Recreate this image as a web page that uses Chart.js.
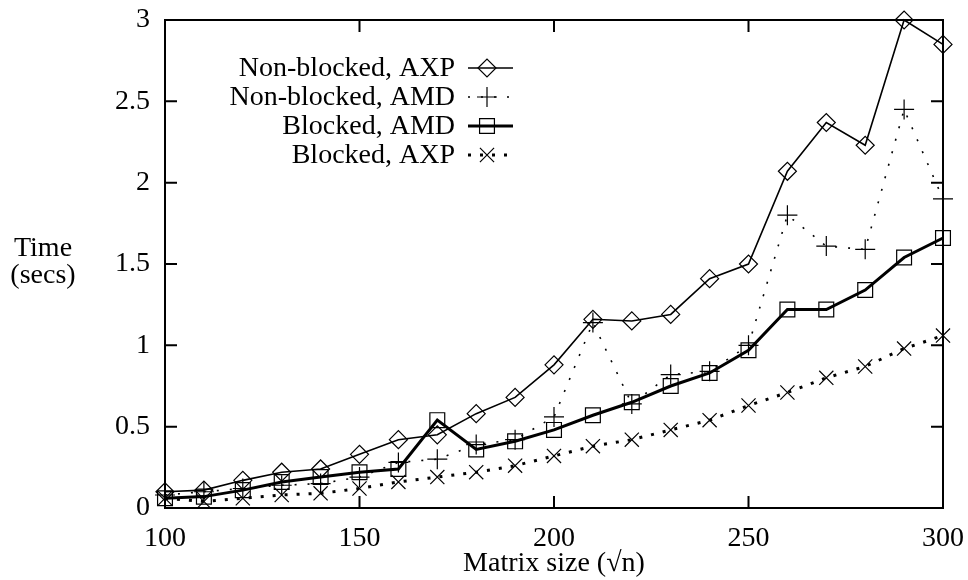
<!DOCTYPE html>
<html lang="en">
<head>
<meta charset="UTF-8">
<title>Matrix size vs time</title>
<script src="https://cdn.jsdelivr.net/npm/chart.js@4.4.8/dist/chart.umd.min.js"></script>
<style>
    html, body { margin: 0; padding: 0; background: #fff; }
    #wrap { width: 968px; height: 580px; }
</style>
</head>
<body>

<div id="wrap"><canvas id="myChart"></canvas></div>

<script>

    // matrix size (sqrt n)
    const sizes = [100, 110, 120, 130, 140, 150, 160, 170, 180, 190, 200,
                   210, 220, 230, 240, 250, 260, 270, 280, 290, 300]

    // time in seconds
    const nonBlockedAXP = [0.10, 0.11, 0.17, 0.22, 0.24, 0.33, 0.42, 0.45, 0.58, 0.68, 0.88,
                           1.16, 1.15, 1.19, 1.41, 1.50, 2.07, 2.37, 2.23, 3.00, 2.85]
    const nonBlockedAMD = [0.08, 0.10, 0.12, 0.14, 0.15, 0.19, 0.28, 0.30, 0.39, 0.42, 0.56,
                           1.14, 0.64, 0.82, 0.84, 1.00, 1.80, 1.61, 1.59, 2.45, 1.90]
    const blockedAMD    = [0.06, 0.07, 0.11, 0.16, 0.19, 0.22, 0.24, 0.54, 0.36, 0.41, 0.48,
                           0.57, 0.65, 0.75, 0.83, 0.97, 1.22, 1.22, 1.34, 1.54, 1.66]
    const blockedAXP    = [0.06, 0.04, 0.06, 0.08, 0.09, 0.12, 0.16, 0.19, 0.22, 0.26, 0.32,
                           0.38, 0.42, 0.48, 0.54, 0.63, 0.71, 0.80, 0.87, 0.98, 1.06]

    const seriesNames = ['Non-blocked, AXP', 'Non-blocked, AMD', 'Blocked, AMD', 'Blocked, AXP']
    const xTicks = [100, 150, 200, 250, 300]
    const yTicks = [0, 0.5, 1, 1.5, 2, 2.5, 3]

    const fontFamily = "'Liberation Serif', 'DejaVu Serif', serif"
    const fontSize = 28

    Chart.defaults.font.family = fontFamily
    Chart.defaults.font.size = fontSize
    Chart.defaults.color = '#000'

    const toPoints = ys => sizes.map((s, i) => ({ x: s, y: ys[i] }))

    const mkSet = (label, ys, style) => Object.assign({
        label: label,
        data: toPoints(ys),
        borderColor: '#000',
        pointBorderColor: '#000',
        pointBackgroundColor: 'rgba(0,0,0,0)',
        pointBorderWidth: 1.2,
        tension: 0,
        clip: false,
    }, style)

    const datasets = [
        mkSet(seriesNames[0], nonBlockedAXP, { borderWidth: 1.6, pointStyle: 'rectRot', pointRadius: 9 }),
        mkSet(seriesNames[1], nonBlockedAMD, { borderWidth: 1.6, borderDash: [2, 11], pointStyle: 'cross', pointRadius: 10 }),
        mkSet(seriesNames[2], blockedAMD, { borderWidth: 3, pointStyle: 'rect', pointRadius: 10.5 }),
        mkSet(seriesNames[3], blockedAXP, { borderWidth: 3, borderDash: [3, 9], pointStyle: 'crossRot', pointRadius: 10 }),
    ]

    // box round the plot, ticks pointing inward on all four sides
    const framePlugin = {
        id: 'frame',
        beforeDatasetsDraw(chart) {
            const { ctx, chartArea: a, scales } = chart
            const tl = 12
            ctx.save()
            ctx.strokeStyle = '#000'
            ctx.lineWidth = 2
            ctx.strokeRect(a.left, a.top, a.right - a.left, a.bottom - a.top)
            ctx.beginPath()
            for (const v of xTicks) {
                const px = scales.x.getPixelForValue(v)
                ctx.moveTo(px, a.bottom); ctx.lineTo(px, a.bottom - tl)
                ctx.moveTo(px, a.top); ctx.lineTo(px, a.top + tl)
            }
            for (const v of yTicks) {
                const py = scales.y.getPixelForValue(v)
                ctx.moveTo(a.left, py); ctx.lineTo(a.left + tl, py)
                ctx.moveTo(a.right, py); ctx.lineTo(a.right - tl, py)
            }
            ctx.stroke()

            // y title, horizontal, two lines
            ctx.fillStyle = '#000'
            ctx.font = fontSize + 'px ' + fontFamily
            ctx.textAlign = 'center'
            ctx.textBaseline = 'middle'
            ctx.fillText('Time', 43, 249)
            ctx.fillText('(secs)', 43, 276)
            ctx.restore()
        },
        afterDatasetsDraw(chart) {
            const { ctx } = chart
            const textRight = 455
            const lineL = 468, lineR = 513, markX = 487
            ctx.save()
            ctx.font = fontSize + 'px ' + fontFamily
            ctx.textAlign = 'right'
            ctx.textBaseline = 'middle'
            chart.data.datasets.forEach((ds, i) => {
                const yy = 68 + i * 29
                ctx.fillStyle = '#000'
                ctx.fillText(ds.label, textRight, yy + 1)
                ctx.strokeStyle = '#000'
                ctx.lineWidth = ds.borderWidth
                ctx.setLineDash(ds.borderDash || [])
                ctx.beginPath()
                ctx.moveTo(lineL, yy)
                ctx.lineTo(lineR, yy)
                ctx.stroke()
                ctx.setLineDash([])
                ctx.fillStyle = 'rgba(0,0,0,0)'
                ctx.lineWidth = ds.pointBorderWidth
                Chart.helpers.drawPoint(ctx, {
                    pointStyle: ds.pointStyle,
                    radius: ds.pointRadius,
                    rotation: 0,
                    borderWidth: ds.pointBorderWidth
                }, markX, yy)
            })
            ctx.restore()
        }
    }

    const ctx = document.getElementById('myChart')
    const chart = new Chart(ctx, {
        type: 'line',
        data: { datasets: datasets },
        plugins: [framePlugin],
        options: {
            responsive: true,
            maintainAspectRatio: false,
            animation: false,
            layout: { padding: { left: 0, right: 25, top: 20, bottom: 0 } },
            plugins: {
                legend: { display: false },
                tooltip: { enabled: false },
            },
            scales: {
                x: {
                    type: 'linear',
                    min: 100,
                    max: 300,
                    afterBuildTicks: s => { s.ticks = xTicks.map(v => ({ value: v })) },
                    ticks: { padding: 14, callback: v => String(v) },
                    grid: { display: false, drawTicks: false },
                    border: { display: false },
                    title: { display: true, text: 'Matrix size (\u221An)', padding: 0 },
                    afterFit: s => {
                        s.height = 72
                        s.paddingLeft = 0
                        s.paddingRight = 0
                    },
                },
                y: {
                    min: 0,
                    max: 3,
                    afterBuildTicks: s => { s.ticks = yTicks.map(v => ({ value: v })) },
                    ticks: { padding: 15, callback: v => String(v) },
                    grid: { display: false, drawTicks: false },
                    border: { display: false },
                    afterFit: s => {
                        s.width = 165
                        s.paddingTop = 0
                        s.paddingBottom = 0
                    },
                },
            },
        },
    })

</script>
</body>
</html>
